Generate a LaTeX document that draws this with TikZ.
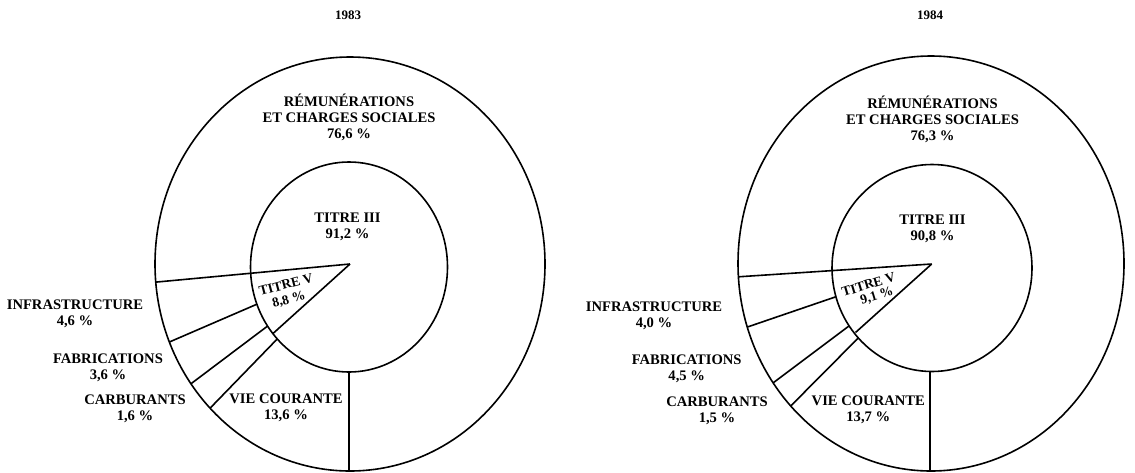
\documentclass[tikz,border=0pt]{standalone}
\usepackage{fontspec}
\setmainfont{Liberation Serif}
\usetikzlibrary{calc}
\begin{document}
\begin{tikzpicture}[x=1pt,y=-1pt,line width=1.6pt,
  lbl/.style={font=\bfseries\fontsize{14.6}{16}\selectfont,align=center,inner sep=0pt},
  sml/.style={font=\bfseries\fontsize{13.5}{14}\selectfont,align=center,inner sep=0pt},
  yr/.style={font=\bfseries\fontsize{13}{14}\selectfont,inner sep=0pt}]
\useasboundingbox (0,0) rectangle (1135,472);
% ================= 1983 =================
\coordinate (oL) at (350,264);
\coordinate (iL) at (349,267);
\coordinate (pL) at (350,264);
\coordinate (L1) at (157,282);
\coordinate (L2) at (171.7,341);
\coordinate (L3) at (193.3,382);
\coordinate (L4) at (211.7,406.5);
\coordinate (L5) at (349,480);
\coordinate (LW) at (273,333.5);
\begin{scope}
  \clip (oL) ellipse [x radius=195, y radius=207];
  \draw (pL) -- ($(pL)!1.15!(L2)$);
  \draw (pL) -- ($(pL)!1.15!(L3)$);
  \draw (pL) -- ($(pL)!1.15!(L4)$);
  \draw (349,300) -- (L5);
\end{scope}
\fill[white] (iL) ellipse [x radius=98.5, y radius=105];
\draw (iL) ellipse [x radius=98.5, y radius=105];
\begin{scope}
  \clip (oL) ellipse [x radius=195, y radius=207];
  \draw (pL) -- ($(pL)!1.15!(L1)$);
\end{scope}
\draw (pL) -- (LW);
\draw (oL) ellipse [x radius=195, y radius=207];
\node[yr] (y83) at (348,15) {1983};
\node[lbl] (rem83) at (349,117) {RÉMUNÉRATIONS\\ET CHARGES SOCIALES\\76,6 \%};
\node[lbl] (t3a) at (347.5,226.5) {TITRE III\\91,2 \%};
\node[sml,rotate=15] (t5a) at (286,284.5) {TITRE V};
\node[sml,rotate=15] (t5ap) at (289,300) {8,8 \%};
\node[lbl] (inf83) at (75,313.5) {INFRASTRUCTURE\\4,6 \%};
\node[lbl] (fab83) at (108,367.5) {FABRICATIONS\\3,6 \%};
\node[lbl] (car83) at (135,409) {CARBURANTS\\1,6 \%};
\node[lbl] (vie83) at (286,407.5) {VIE COURANTE\\13,6 \%};
% ================= 1984 =================
\coordinate (oR) at (931,263.5);
\coordinate (iR) at (932,268);
\coordinate (pR) at (931.7,264);
\coordinate (R1) at (740,276.7);
\coordinate (R2) at (748.3,326.7);
\coordinate (R3) at (773.3,382.7);
\coordinate (R4) at (791.7,405);
\coordinate (R5) at (930,480);
\coordinate (RW) at (855.5,332.5);
\begin{scope}
  \clip (oR) ellipse [x radius=193, y radius=207.5];
  \draw (pR) -- ($(pR)!1.15!(R2)$);
  \draw (pR) -- ($(pR)!1.15!(R3)$);
  \draw (pR) -- ($(pR)!1.15!(R4)$);
  \draw (930,300) -- (R5);
\end{scope}
\fill[white] (iR) ellipse [x radius=100, y radius=103.5];
\draw (iR) ellipse [x radius=100, y radius=103.5];
\begin{scope}
  \clip (oR) ellipse [x radius=193, y radius=207.5];
  \draw (pR) -- ($(pR)!1.15!(R1)$);
\end{scope}
\draw (pR) -- (RW);
\draw (oR) ellipse [x radius=193, y radius=207.5];
\node[yr] (y84) at (930,15) {1984};
\node[lbl] (rem84) at (932.5,119) {RÉMUNÉRATIONS\\ET CHARGES SOCIALES\\76,3 \%};
\node[lbl] (t3b) at (932.5,229) {TITRE III\\90,8 \%};
\node[sml,rotate=17] (t5b) at (868.5,284.5) {TITRE V};
\node[sml,rotate=17] (t5bp) at (877,296) {9,1 \%};
\node[lbl] (inf84) at (654,315.3) {INFRASTRUCTURE\\4,0 \%};
\node[lbl] (fab84) at (686.7,369.2) {FABRICATIONS\\4,5 \%};
\node[lbl] (car84) at (717,410.5) {CARBURANTS\\1,5 \%};
\node[lbl] (vie84) at (868.3,409.7) {VIE COURANTE\\13,7 \%};
\end{tikzpicture}
\end{document}
